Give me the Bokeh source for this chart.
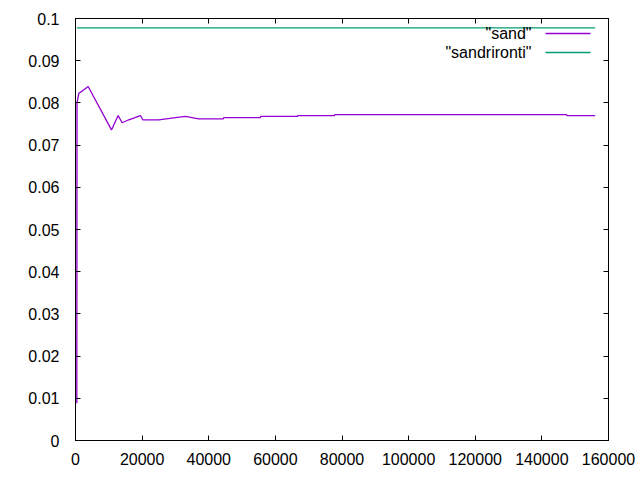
from bokeh.plotting import figure
from bokeh.models import (Range1d, LinearAxis, SingleIntervalTicker, NumeralTickFormatter,
                          CustomJSTickFormatter, Label, Arrow)
from bokeh.embed import file_html
from bokeh.resources import INLINE

# "sand" series
sand_x = [400, 450, 1000, 2000, 3800, 10800, 12800, 14000, 16000, 19500, 20200,
          25000, 30000, 33000, 37000, 44400, 44500, 55500, 55600, 66600, 66700,
          77700, 77800, 147400, 147500, 156000]
sand_y = [0.0088, 0.0800, 0.0823, 0.0828, 0.0839, 0.0736, 0.0770, 0.0753, 0.0760,
          0.0770, 0.0760, 0.0760, 0.0765, 0.0768, 0.0762, 0.0762, 0.0765, 0.0765,
          0.0768, 0.0768, 0.0770, 0.0770, 0.0772, 0.0772, 0.0770, 0.0770]

# "sandrironti" series
sandr_x = [400, 156000]
sandr_y = [0.0978, 0.0978]

legend_labels = ['"sand"', '"sandrironti"']
colors = ["#9400d3", "#009e73"]

W, H = 640, 480
FONT = "Liberation Sans"
FS = "16px"

p = figure(width=W, height=H, output_backend="svg", toolbar_location=None,
           x_range=Range1d(0, 160000), y_range=Range1d(0, 0.1),
           min_border_left=75, min_border_right=32, min_border_top=18,
           min_border_bottom=40, x_axis_location=None, y_axis_location=None)
p.grid.visible = False
p.outline_line_color = "black"
p.outline_line_width = 1
p.background_fill_color = "white"
p.border_fill_color = "white"

blank = CustomJSTickFormatter(code="return ''")

def make_axis(ticker, fmt, show_labels):
    ax = LinearAxis(ticker=ticker, formatter=fmt if show_labels else blank)
    ax.major_tick_in = 5
    ax.major_tick_out = 0
    ax.minor_tick_line_color = None
    ax.axis_line_color = "black"
    ax.major_tick_line_color = "black"
    ax.major_label_text_font = FONT
    ax.major_label_text_font_size = FS
    ax.major_label_text_color = "black"
    return ax

xt = SingleIntervalTicker(interval=20000)
yt = SingleIntervalTicker(interval=0.01)
xf = NumeralTickFormatter(format="0")
yf = NumeralTickFormatter(format="0.[00]")

xb = make_axis(xt, xf, True); xb.major_label_standoff = 8
yl = make_axis(yt, yf, True); yl.major_label_standoff = 12
xa = make_axis(xt, xf, False); xa.major_label_standoff = 0
yr = make_axis(yt, yf, False); yr.major_label_standoff = 0
p.add_layout(xb, "below")
p.add_layout(yl, "left")
p.add_layout(xa, "above")
p.add_layout(yr, "right")

p.line(sand_x, sand_y, line_color=colors[0], line_width=1.3)
p.line(sandr_x, sandr_y, line_color=colors[1], line_width=1.3)

# gnuplot-style legend (frame-relative screen units): right-aligned text, sample to the right
text_right = 456
sample_x0, sample_x1 = 470, 515
rows = [407, 388]
for lab, col, sy in zip(legend_labels, colors, rows):
    p.add_layout(Label(x=text_right, y=sy, x_units="screen", y_units="screen",
                       text=lab, text_align="right", text_baseline="middle",
                       text_font=FONT, text_font_size=FS, text_color="black"))
    p.add_layout(Arrow(start=None, end=None, x_start=sample_x0, y_start=sy,
                       x_end=sample_x1, y_end=sy, start_units="screen",
                       end_units="screen", line_color=col, line_width=1.3))

open("out.html", "w").write(file_html(p, INLINE))
